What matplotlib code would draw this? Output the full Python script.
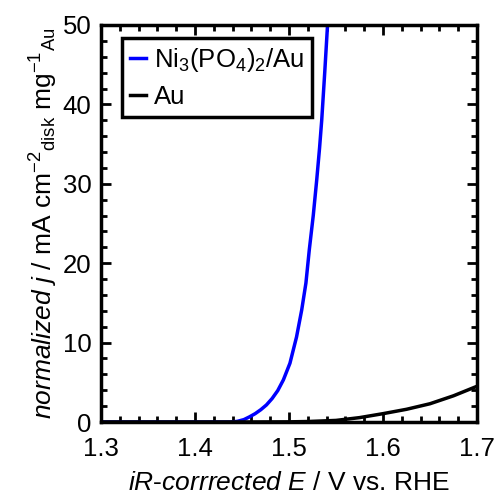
import matplotlib
matplotlib.use("Agg")
import matplotlib.pyplot as plt
from matplotlib.ticker import MultipleLocator

plt.rcParams['font.family'] = ['Liberation Sans', 'DejaVu Sans']
plt.rcParams['mathtext.fontset'] = 'custom'
plt.rcParams['mathtext.rm'] = 'Liberation Sans'
plt.rcParams['mathtext.it'] = 'Liberation Sans:italic'
plt.rcParams['mathtext.bf'] = 'Liberation Sans:bold'

# Ni3(PO4)2/Au polarization curve
ni_E = [1.300, 1.400, 1.438, 1.445, 1.452, 1.458, 1.464, 1.470, 1.476, 1.482,
        1.488, 1.494, 1.501, 1.508, 1.5135, 1.518, 1.5216, 1.5258, 1.5295,
        1.5325, 1.5348, 1.538, 1.541]
ni_j = [0.0, 0.0, 0.0, 0.08, 0.3, 0.65, 1.05, 1.55, 2.15, 2.95,
        3.95, 5.3, 7.4, 10.7, 14.1, 17.5, 21.7, 26.0, 30.5,
        34.5, 38.0, 44.0, 50.0]

# bare Au curve
au_E = [1.300, 1.450, 1.500, 1.520, 1.550, 1.575, 1.600, 1.625, 1.650, 1.675, 1.700]
au_j = [0.0, 0.0, 0.02, 0.06, 0.2, 0.55, 1.05, 1.6, 2.3, 3.3, 4.5]

fig = plt.figure(figsize=(5.01, 5.0), dpi=100)
ax = fig.add_axes([101 / 501, 1 - 422 / 500, 376 / 501, 397 / 500])

ax.plot(ni_E, ni_j, color='#0000ff', lw=2.5, label='Ni$_3$(PO$_4$)$_2$/Au')
ax.plot(au_E, au_j, color='black', lw=2.5, label='Au')

ax.set_xlim(1.3, 1.7)
ax.set_ylim(0, 50)
ax.xaxis.set_major_locator(MultipleLocator(0.1))
ax.xaxis.set_minor_locator(MultipleLocator(0.02))
ax.yaxis.set_major_locator(MultipleLocator(10))
ax.yaxis.set_minor_locator(MultipleLocator(2))
ax.tick_params(which='both', direction='in', top=True, right=True,
               width=2, labelsize=18.5)
ax.tick_params(which='major', length=7)
ax.tick_params(which='minor', length=4)
ax.tick_params(axis='x', which='major', pad=11)
ax.tick_params(axis='y', which='major', pad=7)
for s in ax.spines.values():
    s.set_linewidth(2.5)

ax.set_xlabel('$\\mathit{iR}$-$\\mathit{corrrected}$ $\\mathit{E}$ / V vs. RHE',
              fontsize=19, labelpad=7)
ax.set_ylabel('$\\mathit{normalized}$ $\\mathit{j}$ / mA cm$^{-2}{}_{\\mathrm{disk}}$'
              ' mg$^{-1}{}_{\\mathrm{Au}}$',
              fontsize=19, labelpad=2)

leg = ax.legend(loc='upper left', fontsize=18.5, handlelength=0.65,
                handletextpad=0.3, borderpad=0.3, labelspacing=0.45,
                borderaxespad=0, fancybox=False, framealpha=1,
                edgecolor='black', bbox_to_anchor=(0.056, 0.967))
leg.get_frame().set_linewidth(2.5)

fig.savefig('out.png', dpi=100)
